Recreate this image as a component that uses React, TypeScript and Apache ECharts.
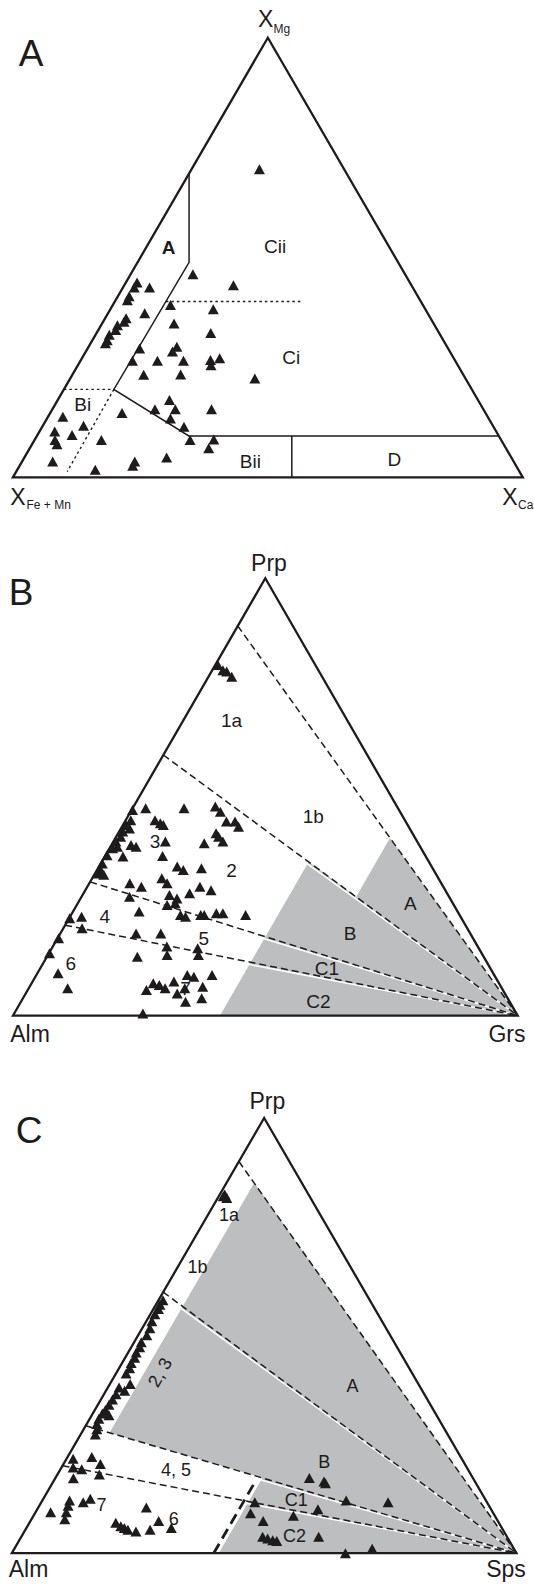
import React, { useEffect, useRef } from "react";
import * as echarts from "echarts";

type TP = [number, number]; // [apex component, right-corner component] as fractions

// ---------- Panel A : X_Mg (apex) – X_Fe+Mn (left) – X_Ca (right) ----------
const aPoints: TP[] = [
  [0.701, 0.133], [0.462, 0.122], [0.437, 0.214], [0.443, 0.022], [0.432, 0.052], [0.432, 0.022],
  [0.412, 0.022], [0.403, 0.023], [0.392, 0.113], [0.382, 0.202], [0.373, 0.072], [0.362, 0.041],
  [0.354, 0.041], [0.346, 0.032], [0.335, 0.034], [0.324, 0.027], [0.312, 0.029], [0.305, 0.029],
  [0.350, 0.141], [0.328, 0.224], [0.297, 0.173], [0.293, 0.102], [0.286, 0.170], [0.265, 0.102],
  [0.265, 0.151], [0.265, 0.202], [0.267, 0.254], [0.271, 0.270], [0.255, 0.261], [0.233, 0.140],
  [0.234, 0.212], [0.225, 0.362], [0.176, 0.219], [0.155, 0.201], [0.155, 0.241], [0.155, 0.312],
  [0.146, 0.141], [0.134, 0.242], [0.115, 0.278], [0.138, 0.029], [0.117, 0.080], [0.104, 0.030],
  [0.096, 0.068], [0.085, 0.040], [0.075, 0.049], [0.085, 0.131], [0.085, 0.305], [0.086, 0.351],
  [0.066, 0.351], [0.036, 0.060], [0.036, 0.221], [0.026, 0.222], [0.045, 0.279], [0.017, 0.153],
];
const aSolid1: TP[] = [[0.691, 0], [0.489, 0.101], [0.2, 0.098], [0.094, 0.298], [0.094, 0.906]];
const aSolid2: TP[] = [[0.094, 0.5], [0, 0.547]];
const aDotted1: TP[] = [[0.4, 0.1], [0.4, 0.366]];
const aDotted2: TP[] = [[0.2, 0], [0.2, 0.098]];
const aDotted3: TP[] = [[0.2, 0.098], [0.013, 0.1]];

// ---------- Panel B : Prp (apex) – Alm (left) – Grs (right) ----------
const bPoints: TP[] = [
  [0.802, 0.005], [0.790, 0.021], [0.787, 0.030], [0.775, 0.046], [0.470, 0.002], [0.474, 0.026],
  [0.474, 0.102], [0.478, 0.162], [0.466, 0.178], [0.447, 0.058], [0.440, 0.072], [0.436, 0.080],
  [0.444, 0.201], [0.444, 0.218], [0.432, 0.231], [0.447, 0.010], [0.428, 0.017], [0.436, 0.006],
  [0.421, 0.007], [0.409, 0.009], [0.398, 0.005], [0.386, 0.014], [0.383, 0.006], [0.417, 0.194],
  [0.409, 0.203], [0.398, 0.217], [0.394, 0.182], [0.398, 0.103], [0.390, 0.039], [0.386, 0.051],
  [0.367, 0.003], [0.364, 0.036], [0.365, 0.114], [0.348, 0.003], [0.333, 0.007], [0.325, 0.007],
  [0.322, 0.019], [0.341, 0.155], [0.333, 0.171], [0.337, 0.205], [0.314, 0.138], [0.303, 0.154],
  [0.303, 0.080], [0.295, 0.107], [0.295, 0.223], [0.287, 0.249], [0.280, 0.210], [0.276, 0.172],
  [0.268, 0.191], [0.272, 0.095], [0.253, 0.179], [0.257, 0.193], [0.238, 0.131], [0.230, 0.217],
  [0.226, 0.229], [0.230, 0.257], [0.230, 0.264], [0.234, 0.286], [0.234, 0.299], [0.230, 0.346],
  [0.223, 0.001], [0.226, 0.023], [0.200, 0.037], [0.177, 0.002], [0.143, 0.001], [0.188, 0.150],
  [0.188, 0.199], [0.158, 0.226], [0.139, 0.236], [0.154, 0.289], [0.139, 0.298], [0.135, 0.179],
  [0.097, 0.041], [0.063, 0.077], [0.093, 0.348], [0.093, 0.299], [0.089, 0.314], [0.074, 0.241],
  [0.070, 0.255], [0.059, 0.235], [0.063, 0.270], [0.078, 0.280], [0.051, 0.300], [0.063, 0.309],
  [0.066, 0.343], [0.032, 0.326], [0.040, 0.354], [0.005, 0.255],
];
const bDashLeftPrp = [0.891, 0.596, 0.306, 0.207]; // Prp where each dashed tie-line leaves the Alm–Prp edge
const bGreyA: TP[] = [[0.406, 0.544], [0, 1], [0.272, 0.544]];
const bGreyBC: TP[] = [[0.352, 0.41], [0, 1], [0, 0.41]];
const bWhite: TP[][] = [
  [[0.347, 0.41], [0, 1]],
  [[0.176, 0.41], [0, 1]],
  [[0.117, 0.41], [0, 1]],
];

// ---------- Panel C : Prp (apex) – Alm (left) – Sps (right) ----------
const cPoints: TP[] = [
  [0.820, 0.009], [0.816, 0.018], [0.824, 0.010],
  [0.581, 0.009], [0.571, 0.008], [0.561, 0.010], [0.549, 0.009], [0.533, 0.011], [0.517, 0.015],
  [0.501, 0.017], [0.485, 0.014], [0.473, 0.017], [0.461, 0.016], [0.449, 0.019], [0.437, 0.018],
  [0.425, 0.021], [0.413, 0.020], [0.389, 0.040], [0.373, 0.037], [0.381, 0.022], [0.365, 0.024],
  [0.353, 0.023], [0.341, 0.022], [0.329, 0.021], [0.321, 0.019], [0.317, 0.034], [0.309, 0.018],
  [0.297, 0.020], [0.285, 0.026], [0.273, 0.029],
  [0.217, 0.013], [0.221, 0.048], [0.205, 0.073], [0.197, 0.023], [0.193, 0.042], [0.172, 0.036],
  [0.181, 0.083], [0.121, 0.054], [0.109, 0.057], [0.094, 0.061], [0.078, 0.066], [0.094, 0.030],
  [0.117, 0.083], [0.125, 0.093], [0.070, 0.171], [0.062, 0.185], [0.058, 0.194], [0.054, 0.203],
  [0.050, 0.221], [0.105, 0.214], [0.074, 0.254], [0.054, 0.247], [0.058, 0.287],
  [0.173, 0.503], [0.165, 0.536], [0.161, 0.541], [0.121, 0.602], [0.117, 0.687], [0.117, 0.423],
  [0.092, 0.427], [0.074, 0.461], [0.086, 0.515], [0.101, 0.556], [0.038, 0.478], [0.034, 0.490],
  [0.030, 0.502], [0.028, 0.511], [0.038, 0.589], [0.0, 0.661], [0.010, 0.709],
];
const cDashLeftPrp = [0.9, 0.6, 0.293, 0.201];
const cLongDash: TP[] = [[0.157, 0.4], [0, 0.4]];
const cGrey: TP[] = [[0.851, 0.055], [0, 1], [0, 0.41], [0.173, 0.41], [0.277, 0.055]];
const cWhite: TP[][] = [
  [[0.562, 0.055], [0, 1]],
  [[0.168, 0.41], [0, 1]],
  [[0.114, 0.41], [0, 1]],
];

// ---------- texts ----------
type Lbl = { t: string; x: number; y: number; s: number; bold?: boolean; left?: boolean; rot?: number };
const labels: Lbl[] = [
  // panel A
  { t: "A", x: 31, y: 53, s: 37 },
  { t: "X", x: 265.6, y: 18.5, s: 23 },
  { t: "Mg", x: 273.5, y: 28.5, s: 12, left: true },
  { t: "X", x: 18, y: 496.7, s: 23 },
  { t: "Fe + Mn", x: 26.5, y: 505, s: 12, left: true },
  { t: "X", x: 510, y: 496.7, s: 23 },
  { t: "Ca", x: 518, y: 505, s: 12, left: true },
  { t: "A", x: 168.6, y: 247.3, s: 19, bold: true },
  { t: "Cii", x: 275.2, y: 246, s: 19 },
  { t: "Ci", x: 291.2, y: 357.3, s: 19 },
  { t: "Bi", x: 82.8, y: 404, s: 19 },
  { t: "Bii", x: 250.3, y: 461.7, s: 19 },
  { t: "D", x: 394.4, y: 459.3, s: 19 },
  // panel B
  { t: "B", x: 21, y: 592, s: 37 },
  { t: "Prp", x: 269, y: 563, s: 23 },
  { t: "Alm", x: 30, y: 1034, s: 23 },
  { t: "Grs", x: 507, y: 1034, s: 23 },
  { t: "1a", x: 231.6, y: 720, s: 19 },
  { t: "1b", x: 313.3, y: 816.7, s: 19 },
  { t: "2", x: 231.6, y: 870.7, s: 19 },
  { t: "3", x: 155, y: 841.7, s: 19 },
  { t: "4", x: 104.9, y: 916.7, s: 19 },
  { t: "5", x: 203.7, y: 938.3, s: 19 },
  { t: "6", x: 70.8, y: 963.3, s: 19 },
  { t: "7", x: 185.6, y: 988.3, s: 19 },
  { t: "A", x: 410.4, y: 903.3, s: 19 },
  { t: "B", x: 350.1, y: 933.3, s: 19 },
  { t: "C1", x: 326.9, y: 968.3, s: 19 },
  { t: "C2", x: 318.4, y: 1001.7, s: 19 },
  // panel C
  { t: "C", x: 29, y: 1130, s: 37 },
  { t: "Prp", x: 267.3, y: 1100.7, s: 23 },
  { t: "Alm", x: 28.5, y: 1569, s: 23 },
  { t: "Sps", x: 506, y: 1569, s: 23 },
  { t: "1a", x: 228.9, y: 1215.2, s: 18 },
  { t: "1b", x: 197.5, y: 1267.2, s: 18 },
  { t: "2, 3", x: 160.1, y: 1372.4, s: 18, rot: Math.PI / 3 },
  { t: "A", x: 352.5, y: 1385.9, s: 18 },
  { t: "B", x: 324.2, y: 1461.5, s: 18 },
  { t: "4, 5", x: 176.1, y: 1470.2, s: 18 },
  { t: "C1", x: 296.3, y: 1499.7, s: 18 },
  { t: "7", x: 101.5, y: 1504.9, s: 18 },
  { t: "6", x: 173.7, y: 1518.8, s: 18 },
  { t: "C2", x: 294.6, y: 1536.1, s: 18 },
];

const FONT = '"Liberation Sans", Arial, Helvetica, sans-serif';
const INK = "#1e1b1c";
const GREY = "#bcbec0";

const tern = (p: TP) => [p[1] + p[0] / 2, p[0]];

function line(i: number, pts: TP[], style: any, z: number) {
  return {
    type: "line",
    xAxisIndex: i,
    yAxisIndex: i,
    data: pts.map(tern),
    symbol: "none",
    silent: true,
    clip: false,
    z,
    lineStyle: { color: INK, join: "miter", cap: "butt", ...style },
  };
}

function polys(i: number, list: TP[][]) {
  return {
    type: "custom",
    xAxisIndex: i,
    yAxisIndex: i,
    silent: true,
    clip: false,
    z: 1,
    data: list.map((_, k) => [k, 0]),
    renderItem: (params: any, api: any) => ({
      type: "polygon",
      shape: { points: list[params.dataIndex].map((p) => api.coord(tern(p))) },
      style: { fill: GREY },
    }),
  };
}

function scatter(i: number, pts: TP[]) {
  return {
    type: "scatter",
    xAxisIndex: i,
    yAxisIndex: i,
    symbol: "triangle",
    symbolSize: [11, 10],
    clip: false,
    silent: true,
    z: 6,
    itemStyle: { color: INK, opacity: 1 },
    data: pts.map(tern),
  };
}

const outline: TP[] = [[0, 0], [0, 1], [1, 0], [0, 0], [0, 1]];
const dash = { width: 1.5, type: [7, 4] };
const dot = { width: 1.4, type: [2.5, 3] };

function buildOption() {
  const grids = [
    { left: 12.9, top: 37.7, width: 509.9, height: 439.6 },
    { left: 12.9, top: 578.3, width: 504.8, height: 437.4 },
    { left: 11.8, top: 1118, width: 504.7, height: 435.2 },
  ];
  const axis = (i: number) => ({ type: "value", gridIndex: i, min: 0, max: 1, show: false });
  const series: any[] = [];

  // Panel A
  series.push(line(0, aSolid1, { width: 1.5 }, 3));
  series.push(line(0, aSolid2, { width: 1.5 }, 3));
  series.push(line(0, aDotted1, dot, 3));
  series.push(line(0, aDotted2, dot, 3));
  series.push(line(0, aDotted3, dot, 3));
  series.push(line(0, outline, { width: 2.3 }, 4));
  series.push(scatter(0, aPoints));

  // Panel B
  series.push(polys(1, [bGreyA, bGreyBC]));
  bWhite.forEach((w) => series.push(line(1, w, { width: 1.6, color: "#ffffff" }, 2)));
  bDashLeftPrp.forEach((t) => series.push(line(1, [[t, 0], [0, 1]], dash, 3)));
  series.push(line(1, outline, { width: 2.3 }, 4));
  series.push(scatter(1, bPoints));

  // Panel C
  series.push(polys(2, [cGrey]));
  cWhite.forEach((w) => series.push(line(2, w, { width: 1.6, color: "#ffffff" }, 2)));
  cDashLeftPrp.forEach((t) => series.push(line(2, [[t, 0], [0, 1]], dash, 3)));
  series.push(line(2, cLongDash, { width: 2.8, type: [11, 6] }, 3));
  series.push(line(2, outline, { width: 2.3 }, 4));
  series.push(scatter(2, cPoints));

  const graphic = labels.map((l) => ({
    type: "text",
    x: l.x,
    y: l.y,
    rotation: l.rot || 0,
    z: 100,
    silent: true,
    style: {
      text: l.t,
      fill: INK,
      font: `${l.bold ? "bold " : ""}${l.s}px ${FONT}`,
      align: l.left ? "left" : "center",
      verticalAlign: "middle",
    },
  }));

  return {
    animation: false,
    backgroundColor: "#ffffff",
    grid: grids,
    xAxis: [axis(0), axis(1), axis(2)],
    yAxis: [axis(0), axis(1), axis(2)],
    series,
    graphic,
  };
}

export default function App() {
  const ref = useRef<HTMLDivElement>(null);
  useEffect(() => {
    document.body.style.margin = "0";
    const chart = echarts.init(ref.current as HTMLDivElement, undefined, { renderer: "svg" });
    chart.setOption(buildOption() as any);
    return () => chart.dispose();
  }, []);
  return (
    <div
      ref={ref}
      style={{ position: "absolute", left: 0, top: 0, width: 534, height: 1584 }}
    />
  );
}
